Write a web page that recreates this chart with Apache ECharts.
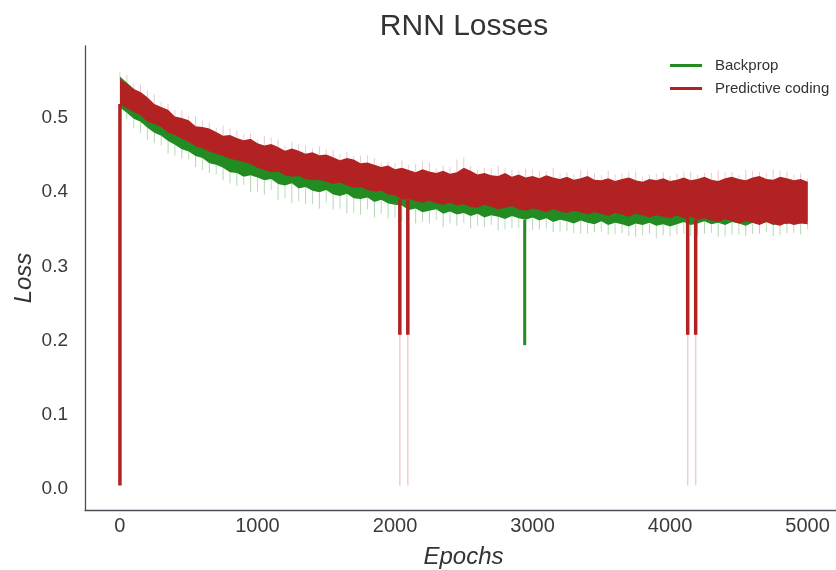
<!DOCTYPE html>
<html lang="en">
<head>
    <meta charset="UTF-8">
    <script src="https://cdn.jsdelivr.net/npm/echarts@6/dist/echarts.min.js"></script>
    <title>RNN Losses</title>
    <style>html, body { margin: 0; background: #fff; }</style>
</head>
<body>
<div id="main" style="width: 836px;height:570px;"></div>
<script type="text/javascript">
    // band edges, one value every 50 epochs (0..5000)
    var step = 50;
    var pcHigh = [.552,.546,.539,.535,.528,.519,.515,.511,.502,.500,.497,.489,.488,.486,.481,.476,.477,.473,.470,.472,
        .466,.463,.465,.461,.456,.459,.456,.452,.454,.450,.451,.447,.443,.446,.444,.439,.440,.437,.434,.436,.431,
        .433,.430,.427,.431,.428,.426,.429,.425,.427,.433,.429,.424,.426,.423,.422,.426,.421,.424,.420,.422,
        .419,.423,.420,.418,.421,.417,.419,.422,.417,.416,.419,.415,.418,.420,.416,.414,.418,.416,.419,.415,
        .417,.420,.416,.418,.421,.417,.415,.419,.421,.418,.416,.420,.422,.418,.417,.421,.419,.416,.418,.414];
    var pcLow = [.519,.513,.508,.504,.495,.492,.488,.480,.477,.472,.468,.462,.459,.455,.452,.449,.445,.443,.441,.438,
        .433,.430,.427,.428,.423,.421,.422,.418,.416,.417,.414,.411,.413,.409,.406,.407,.403,.401,.402,.397,.396,
        .390,.392,.388,.386,.389,.385,.383,.386,.382,.384,.380,.379,.383,.380,.377,.379,.381,.377,.375,.378,
        .376,.373,.377,.374,.372,.375,.373,.370,.373,.371,.368,.372,.370,.367,.371,.369,.366,.369,.367,.365,
        .369,.365,.367,.363,.365,.362,.360,.364,.361,.358,.361,.359,.356,.360,.357,.355,.359,.356,.358,.357];
    var bpLow = [.514,.507,.499,.495,.487,.480,.476,.469,.464,.458,.455,.449,.446,.439,.437,.433,.427,.426,.421,.423,
        .420,.416,.418,.411,.409,.412,.405,.407,.402,.400,.403,.397,.395,.398,.392,.391,.393,.387,.390,.385,.383,
        .382,.376,.378,.373,.375,.377,.371,.374,.370,.372,.368,.371,.366,.369,.367,.364,.368,.365,.363,.366,
        .362,.365,.360,.363,.361,.358,.362,.359,.357,.361,.356,.359,.357,.354,.358,.356,.359,.355,.357,.354,
        .357,.360,.356,.358,.361,.357,.359,.356,.360,.358,.355,.359,.357,.360,.356,.359,.357,.360,.358,.361];
    // top of the green band, mostly hidden under the red one (every 250 epochs)
    var bpHighStep = 250;
    var bpHigh = [.556,.515,.490,.473,.462,.452,.444,.436,.428,.425,.423,.420,.418,.417,.415,.414,.413,.414,.415,.416,.414];

    // faint single-epoch outliers at epochs 50, 150, ... 4950
    var pcPeak = [.558,.545,.532,.519,.510,.503,.494,.490,.483,.480,.476,.471,.468,.463,.462,.457,.455,.449,.446,.441,
        .443,.438,.440,.436,.444,.435,.433,.436,.430,.432,.429,.433,.427,.430,.426,.429,.426,.428,.424,.427,
        .425,.428,.426,.429,.427,.430,.427,.431,.428,.426];
    var bpDip = [.498,.480,.466,.452,.446,.434,.426,.416,.409,.400,.397,.390,.385,.384,.378,.377,.372,.370,.366,.365,
        .361,.358,.358,.353,.355,.351,.353,.349,.352,.347,.350,.346,.348,.344,.346,.343,.345,.340,.344,.342,
        .343,.341,.344,.340,.343,.341,.344,.341,.345,.343];
    // ...and at epochs 0, 100, ... 5000
    var pcPeakEven = [.562,.546,.537,.522,.511,.503,.497,.487,.486,.478,.471,.474,.463,.465,.459,.458,.452,.449,.450,.440,
        .439,.437,.441,.432,.434,.447,.430,.432,.433,.429,.431,.428,.426,.424,.430,.423,.424,.428,.421,.425,
        .422,.428,.424,.426,.427,.423,.429,.425,.430,.424,.419];
    var bpDipEven = [.505,.487,.470,.463,.449,.444,.430,.424,.412,.410,.401,.403,.392,.388,.384,.386,.378,.372,.377,.371,
        .366,.362,.360,.363,.358,.359,.355,.356,.350,.352,.349,.351,.347,.345,.344,.347,.343,.341,.342,.338,
        .341,.344,.342,.345,.340,.343,.344,.346,.342,.345,.350];

    // the big drops
    var pcDropEpochs = [0, 2035, 2093, 4128, 4186];
    var pcDropThick = [0.005, 0.208, 0.208, 0.208, 0.208];
    var pcDropFaint = [0.005, 0.005, 0.005, 0.005, 0.005];
    var bpDropEpochs = [2943];
    var bpDropThick = [0.194];

    var xTicks = [0, 1000, 2000, 3000, 4000, 5000];
    var yTicks = [0, 0.1, 0.2, 0.3, 0.4, 0.5];

    var GREEN = '#228b22';
    var RED = '#b22222';

    var epochs = [], bpHighEpochs = [], oddEpochs = [], evenEpochs = [];
    for (var i = 0; i < pcHigh.length; i++) epochs.push(i * step);
    for (var i = 0; i < bpHigh.length; i++) bpHighEpochs.push(i * bpHighStep);
    for (var k = 0; k < pcPeak.length; k++) oddEpochs.push((2 * k + 1) * step);
    for (var k = 0; k < pcPeakEven.length; k++) evenEpochs.push(2 * k * step);

    // value of a band edge at the given epochs (nearest sample)
    function edgeAt(list, eps) {
        return eps.map(function (e) { return list[Math.round(e / step)]; });
    }

    function band(topX, top, botX, bot, color) {
        return function (params, api) {
            var pts = [];
            for (var i = 0; i < top.length; i++) pts.push(api.coord([topX[i], top[i]]));
            for (var j = bot.length - 1; j >= 0; j--) pts.push(api.coord([botX[j], bot[j]]));
            return {type: 'polygon', shape: {points: pts}, style: {fill: color}};
        };
    }

    function sticks(xs, from, to, color, width) {
        return function (params, api) {
            var kids = [];
            for (var i = 0; i < xs.length; i++) {
                var a = api.coord([xs[i], from[i]]);
                var b = api.coord([xs[i], to[i]]);
                kids.push({
                    type: 'line',
                    shape: {x1: a[0], y1: a[1], x2: b[0], y2: b[1]},
                    style: {stroke: color, lineWidth: width}
                });
            }
            return {type: 'group', children: kids};
        };
    }

    function custom(name, color, fn) {
        return {
            name: name, type: 'custom', data: [[0, 0]], silent: true,
            itemStyle: {color: color}, renderItem: fn
        };
    }

    var myChart = echarts.init(document.getElementById('main'));

    var option = {
        animation: false,
        backgroundColor: '#fff',
        title: {
            text: 'RNN Losses',
            left: 459, top: 7, textAlign: 'center',
            textStyle: {fontFamily: 'Liberation Sans', fontSize: 30, fontWeight: 'normal', color: '#333'}
        },
        legend: {
            orient: 'vertical', left: 665, top: 53, itemGap: 8,
            icon: 'rect', itemWidth: 32, itemHeight: 3,
            textStyle: {fontFamily: 'Liberation Sans', fontSize: 15, color: '#333', padding: [0, 0, 0, 8]},
            data: ['Backprop', 'Predictive coding']
        },
        grid: {left: 85, right: -6, top: 46, bottom: 60, containLabel: false, outerBoundsMode: 'none'},
        xAxis: {
            type: 'value', min: -254, max: 5250,
            name: 'Epochs', nameLocation: 'middle', nameGap: 35, nameMoveOverlap: false,
            nameTextStyle: {fontFamily: 'Liberation Sans', fontSize: 24, fontStyle: 'italic', color: '#333'},
            axisLine: {show: true, onZero: false, lineStyle: {color: '#4a4e57', width: 1.3}},
            axisTick: {show: false},
            splitLine: {show: false},
            axisLabel: {
                customValues: xTicks, margin: 6,
                fontFamily: 'Liberation Sans', fontSize: 20, color: '#3b3b3b',
                formatter: function (v) { return String(v); }
            }
        },
        yAxis: {
            type: 'value', min: -0.028, max: 0.597,
            name: 'Loss', nameLocation: 'middle', nameGap: 49, nameRotate: 90, nameMoveOverlap: false,
            nameTextStyle: {fontFamily: 'Liberation Sans', fontSize: 24, fontStyle: 'italic', color: '#333'},
            axisLine: {show: true, onZero: false, lineStyle: {color: '#4a4e57', width: 1.3}},
            axisTick: {show: false},
            splitLine: {show: false},
            axisLabel: {
                customValues: yTicks, margin: 17,
                fontFamily: 'Liberation Sans', fontSize: 19, color: '#3b3b3b',
                formatter: function (v) { return v.toFixed(1); }
            }
        },
        series: [
            custom('Backprop', GREEN, band(bpHighEpochs, bpHigh, epochs, bpLow, GREEN)),
            custom('Backprop', GREEN, sticks(oddEpochs, edgeAt(bpLow, oddEpochs), bpDip, 'rgba(34,139,34,0.35)', 1)),
            custom('Backprop', GREEN, sticks(evenEpochs, edgeAt(bpLow, evenEpochs), bpDipEven, 'rgba(34,139,34,0.3)', 1)),
            custom('Backprop', GREEN, sticks(bpDropEpochs, edgeAt(bpLow, bpDropEpochs), bpDropThick, GREEN, 3)),
            custom('Predictive coding', RED, sticks(oddEpochs, edgeAt(pcHigh, oddEpochs), pcPeak, 'rgba(178,34,34,0.25)', 1)),
            custom('Predictive coding', RED, sticks(evenEpochs, edgeAt(pcHigh, evenEpochs), pcPeakEven, 'rgba(178,34,34,0.22)', 1)),
            custom('Predictive coding', RED, sticks(pcDropEpochs, pcDropThick, pcDropFaint, 'rgba(178,34,34,0.22)', 1.5)),
            custom('Predictive coding', RED, band(epochs, pcHigh, epochs, pcLow, RED)),
            custom('Predictive coding', RED, sticks(pcDropEpochs, edgeAt(pcLow, pcDropEpochs), pcDropThick, RED, 3.5))
        ]
    };

    myChart.setOption(option);
</script>
</body>
</html>
